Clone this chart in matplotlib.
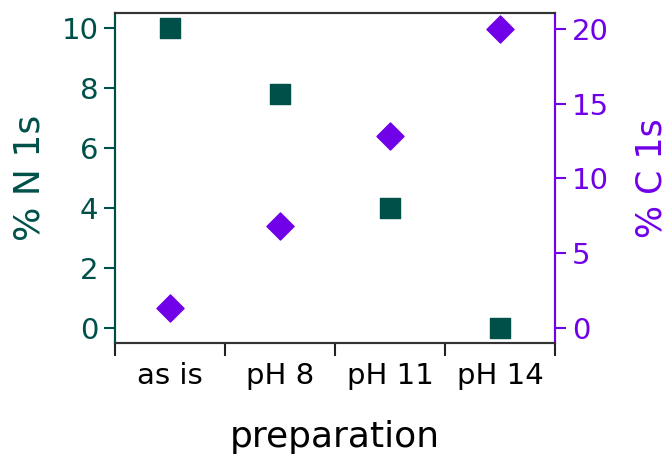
import matplotlib.pyplot as plt
import numpy as np

categories = ['as is', 'pH 8', 'pH 11', 'pH 14']
n1s = [10.0, 7.8, 4.0, 0.0]
c1s = [1.35, 6.8, 12.85, 20.0]

teal = '#00504a'
purple = '#7000e8'

plt.rcParams['font.family'] = ['DejaVu Sans']

fig = plt.figure(figsize=(6.7, 4.57), dpi=100)
ax1 = fig.add_axes([115 / 670, 1 - 343 / 457, 440 / 670, 330 / 457])
ax2 = ax1.twinx()

x = np.arange(len(categories)) + 0.5
ax1.scatter(x, n1s, marker='s', s=190, color=teal, zorder=3)
ax2.scatter(x, c1s, marker='D', s=190, color=purple, zorder=3)

ax1.set_xlim(0, 4)
ax1.set_ylim(-0.5, 10.5)
ax2.set_ylim(-1.0, 21.05)

ax1.set_xticks(np.arange(5))
ax1.set_xticklabels([])
ax1.set_xticks(x, minor=True)
ax1.set_xticklabels(categories, minor=True, fontsize=21)
ax1.tick_params(axis='x', which='minor', length=0, pad=14)
ax1.tick_params(axis='x', which='major', length=9, width=1.5, color='#222222')

ax1.set_yticks([0, 2, 4, 6, 8, 10])
ax2.set_yticks([0, 5, 10, 15, 20])
ax1.tick_params(axis='y', colors=teal, labelsize=21, length=8, width=1.5, pad=4)
ax2.tick_params(axis='y', colors=purple, labelsize=21, length=8, width=1.5, pad=4)

ax1.set_ylabel('% N 1s', color=teal, fontsize=26)
ax2.set_ylabel('% C 1s', color=purple, fontsize=25)
ax1.set_xlabel('preparation', fontsize=26)
ax1.yaxis.set_label_coords(-85 / 440, 0.5)
ax2.yaxis.set_label_coords(1 + 96 / 440, 0.5)
ax1.xaxis.set_label_coords(0.5, -94 / 330)
ax1.xaxis.label.set_va('center')
ax1.yaxis.label.set_va('center')
ax2.yaxis.label.set_va('center')

for ax in (ax1, ax2):
    ax.spines['left'].set_color(teal)
    ax.spines['right'].set_color(purple)
    ax.spines['top'].set_color('#333333')
    ax.spines['bottom'].set_color('#333333')
    for s in ax.spines.values():
        s.set_linewidth(1.5)

fig.savefig('out.png', dpi=100)
